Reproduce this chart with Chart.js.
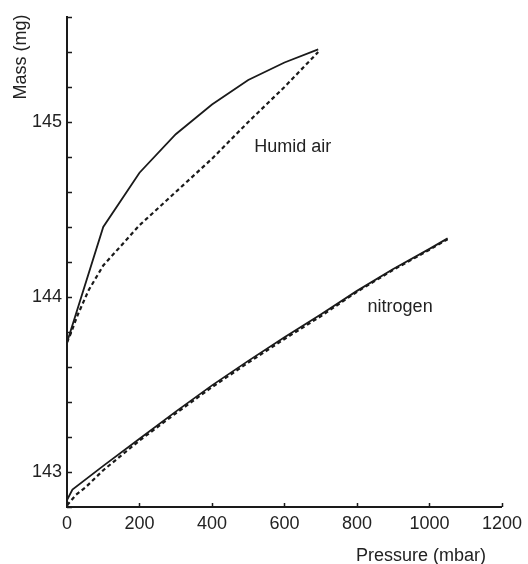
<!DOCTYPE html>
<html>
<head>
<meta charset="utf-8">
<script src="https://cdn.jsdelivr.net/npm/chart.js@4/dist/chart.umd.min.js"></script>
<style>
  html, body { margin: 0; padding: 0; background: #fff; }
  #grafica { display: block; }
</style>
</head>
<body>
<canvas id="grafica" width="528" height="564"></canvas>
<script>
// Aire húmedo: subida (continua) y bajada (discontinua)
const presionHumedo = [0, 100, 200, 300, 400, 500, 600, 693];
const masaHumedo = [143.74, 144.40, 144.71, 144.93, 145.10, 145.24, 145.34, 145.415];
const presionHumedoB = [0, 10, 30, 60, 100, 200, 300, 400, 500, 600, 693];
const masaHumedoB = [143.74, 143.79, 143.90, 144.04, 144.18, 144.41, 144.60, 144.79, 145.00, 145.20, 145.40];

// Nitrógeno: subida (continua) y bajada (discontinua)
const presionN2 = [0, 15, 100, 200, 300, 400, 500, 600, 700, 800, 900, 1000, 1050];
const masaN2 = [142.84, 142.90, 143.035, 143.19, 143.345, 143.495, 143.635, 143.77, 143.90, 144.035, 144.16, 144.275, 144.335];
const presionN2B = [0, 25, 50, 100, 200, 300, 400, 500, 600, 700, 800, 900, 1000, 1050];
const masaN2B = [142.81, 142.87, 142.91, 143.01, 143.18, 143.335, 143.485, 143.625, 143.76, 143.89, 144.03, 144.155, 144.27, 144.33];

// Ejes
const limitesX = [0, 1200];
const pasoX = 200;
const limitesY = [142.8, 145.6];
const pasoY = 0.2;

// Rótulos dentro del gráfico (en unidades de los ejes)
const rotulos = [
    { texto: 'Humid air', x: 623, y: 144.856 },
    { texto: 'nitrogen', x: 919, y: 143.943 }
];

const fuente = '"Liberation Sans", Arial, sans-serif';
const colorTinta = '#1a1a1a';

function puntos(xs, ys) {
    return xs.map((v, i) => ({ x: v, y: ys[i] }));
}

function serie(xs, ys, discontinua) {
    return {
        data: puntos(xs, ys),
        borderColor: colorTinta,
        borderWidth: discontinua ? 2.2 : 1.8,
        borderDash: discontinua ? [4, 3] : [],
        pointRadius: 0,
        tension: 0,
        fill: false
    };
}

// Marcas hacia dentro, rótulos y títulos de los ejes
const decoracion = {
    id: 'decoracion',
    afterDraw(chart) {
        const { ctx, chartArea, scales: { x, y } } = chart;
        ctx.save();
        ctx.strokeStyle = colorTinta;
        ctx.lineWidth = 1.5;
        ctx.beginPath();
        x.ticks.forEach(t => {
            const px = Math.round(x.getPixelForValue(t.value)) + 0.5;
            ctx.moveTo(px, chartArea.bottom);
            ctx.lineTo(px, chartArea.bottom - 4);
        });
        // marcas menores del eje y cada 0.2 mg
        const n = Math.round((y.max - y.min) / pasoY);
        for (let i = 0; i <= n; i++) {
            const py = Math.round(y.getPixelForValue(y.min + i * pasoY)) + 0.5;
            ctx.moveTo(chartArea.left, py);
            ctx.lineTo(chartArea.left + 5, py);
        }
        ctx.stroke();

        ctx.fillStyle = '#222';
        ctx.font = '18px ' + fuente;
        ctx.textAlign = 'center';
        ctx.textBaseline = 'middle';
        rotulos.forEach(r => {
            ctx.fillText(r.texto, x.getPixelForValue(r.x), y.getPixelForValue(r.y));
        });

        ctx.textAlign = 'right';
        ctx.fillText('Pressure (mbar)', chartArea.right - 16, 556);

        ctx.translate(21, 57);
        ctx.rotate(-Math.PI / 2);
        ctx.textAlign = 'center';
        ctx.fillText('Mass (mg)', 0, 0);
        ctx.restore();
    }
};

new Chart(document.getElementById('grafica'), {
    type: 'line',
    data: {
        datasets: [
            serie(presionHumedo, masaHumedo, false),
            serie(presionHumedoB, masaHumedoB, true),
            serie(presionN2, masaN2, false),
            serie(presionN2B, masaN2B, true)
        ]
    },
    options: {
        responsive: false,
        animation: false,
        layout: { padding: { top: 17, right: 22, left: 0, bottom: 0 } },
        plugins: { legend: { display: false }, tooltip: { enabled: false } },
        scales: {
            x: {
                type: 'linear',
                min: limitesX[0],
                max: limitesX[1],
                grid: { display: false, drawTicks: false },
                border: { display: true, color: colorTinta, width: 2 },
                ticks: {
                    stepSize: pasoX,
                    padding: 6,
                    color: '#222',
                    font: { family: fuente, size: 18 },
                    maxRotation: 0,
                    callback: v => String(v)
                },
                afterFit: s => { s.height = 57; }
            },
            y: {
                type: 'linear',
                min: limitesY[0],
                max: limitesY[1],
                grid: { display: false, drawTicks: false },
                border: { display: true, color: colorTinta, width: 2 },
                ticks: {
                    stepSize: pasoY,
                    padding: 5,
                    color: '#222',
                    font: { family: fuente, size: 18 },
                    callback: v => Math.abs(v - Math.round(v)) < 1e-6 ? String(Math.round(v)) : null
                },
                afterFit: s => { s.width = 67; }
            }
        }
    },
    plugins: [decoracion]
});
</script>
</body>
</html>
